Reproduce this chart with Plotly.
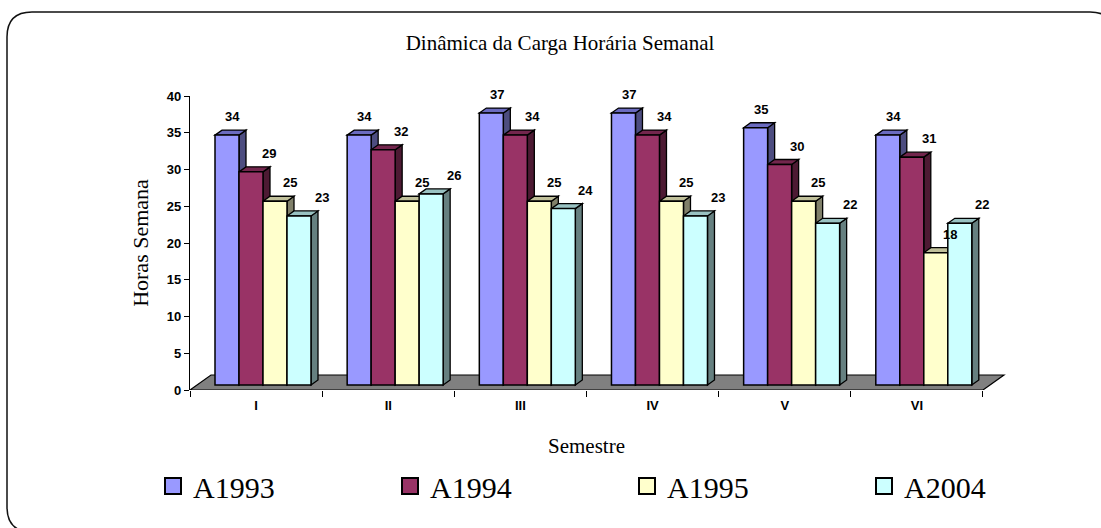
import plotly.graph_objects as go

# ---------------- data ----------------
categories = ["I", "II", "III", "IV", "V", "VI"]
series_names = ["A1993", "A1994", "A1995", "A2004"]
a1993 = [34, 34, 37, 37, 35, 34]
a1994 = [29, 32, 34, 34, 30, 31]
a1995 = [25, 25, 25, 25, 25, 18]
a2004 = [23, 26, 24, 23, 22, 22]
y_tick_vals = [0, 5, 10, 15, 20, 25, 30, 35, 40]

series_values = [a1993, a1994, a1995, a2004]

# ---------------- style ----------------
front_colors = ["#9999FF", "#993366", "#FFFFCC", "#CCFFFF"]
top_colors = ["#6B6BC0", "#73264D", "#C0C09A", "#99C2C2"]
side_colors = ["#4D4D80", "#4D1A33", "#80806A", "#668080"]
label_xshift = [2, 14, 11, 19]

SERIF = "Liberation Serif, Times New Roman, serif"
SANS = "Liberation Sans, Arial, sans-serif"

W, H = 1101, 528
ML, MR, MT, MB = 190, 85, 96, 138
X_RANGE = [-0.5, 5.75]
Y_RANGE = [0, 40]
PXU = (W - ML - MR) / (X_RANGE[1] - X_RANGE[0])   # px per category unit
PYU = (H - MT - MB) / (Y_RANGE[1] - Y_RANGE[0])   # px per value unit

bar_w = 24 / PXU
off0 = 25 / PXU - 0.5
dx = 7 / PXU
dy = 5 / PYU
base = dy

fig = go.Figure()

shapes = []
# floor
shapes.append(dict(
    type="path", xref="x", yref="y", layer="below",
    path=(f"M{-0.5},{0} L{5.5},{0} L{5.5 + 3 * dx},{3 * dy} "
          f"L{-0.5 + 3 * dx},{3 * dy} Z"),
    fillcolor="#808080", line=dict(color="black", width=1.2)))

annotations = []
for k, (name, vals) in enumerate(zip(series_names, series_values)):
    off = off0 + k * bar_w
    fig.add_trace(go.Bar(
        x=categories, y=vals, base=base, width=bar_w, offset=off,
        name=name, showlegend=False,
        marker=dict(color=front_colors[k], line=dict(color="black", width=1.5)),
        hoverinfo="skip"))
    # legend proxy
    fig.add_trace(go.Scatter(
        x=[None], y=[None], mode="markers", name=name,
        marker=dict(symbol="square", size=16, color=front_colors[k],
                    line=dict(color="black", width=2))))
    for i, v in enumerate(vals):
        xl = i + off
        xr = xl + bar_w
        b = base
        t = base + v
        shapes.append(dict(
            type="path", xref="x", yref="y", layer="below",
            path=f"M{xr},{b} L{xr + dx},{b + dy} L{xr + dx},{t + dy} L{xr},{t} Z",
            fillcolor=side_colors[k], line=dict(color="black", width=1.3)))
        shapes.append(dict(
            type="path", xref="x", yref="y", layer="below",
            path=f"M{xl},{t} L{xl + dx},{t + dy} L{xr + dx},{t + dy} L{xr},{t} Z",
            fillcolor=top_colors[k], line=dict(color="black", width=1.3)))
        annotations.append(dict(
            x=xl + bar_w / 2 + dx / 2, y=t + dy, xref="x", yref="y",
            text=str(v), showarrow=False, yanchor="bottom", yshift=4,
            xshift=label_xshift[k],
            font=dict(family=SANS, size=13, color="black", weight="bold")))

# rounded outer border (pixel -> paper)
def px(xp):
    return (xp - ML) / (W - ML - MR)

def py(yp):
    return (H - MB - yp) / (H - MT - MB)

# x-axis title as centred text under the category axis
annotations.append(dict(
    x=(len(categories) - 1) / 2, xref="x", y=py(446), yref="paper",
    text="Semestre", showarrow=False, xanchor="center", yanchor="middle",
    font=dict(family=SERIF, size=21, color="black")))

L_, T_, R_, B_, r = 7, 12, 1115, 532, 25
border = (f"M{px(L_ + r)},{py(T_)} L{px(R_ - r)},{py(T_)} "
          f"Q{px(R_)},{py(T_)} {px(R_)},{py(T_ + r)} "
          f"L{px(R_)},{py(B_ - r)} Q{px(R_)},{py(B_)} {px(R_ - r)},{py(B_)} "
          f"L{px(L_ + r)},{py(B_)} Q{px(L_)},{py(B_)} {px(L_)},{py(B_ - r)} "
          f"L{px(L_)},{py(T_ + r)} Q{px(L_)},{py(T_)} {px(L_ + r)},{py(T_)} Z")
shapes.append(dict(type="path", xref="paper", yref="paper", path=border,
                   line=dict(color="#111111", width=1.5), fillcolor="rgba(0,0,0,0)"))

fig.update_layout(
    width=W, height=H, autosize=False,
    margin=dict(l=ML, r=MR, t=MT, b=MB),
    paper_bgcolor="white", plot_bgcolor="white",
    barmode="overlay",
    title=dict(text="Dinâmica da Carga Horária Semanal",
               font=dict(family=SERIF, size=21, color="black"),
               x=560 / W, xref="container", xanchor="center",
               y=1 - 43 / H, yref="container", yanchor="middle"),
    xaxis=dict(type="category", range=X_RANGE, showline=False,
               showgrid=False, zeroline=False, tickson="boundaries",
               ticks="outside", ticklen=6, tickcolor="black", tickwidth=1,
               ticklabelstandoff=6,
               tickfont=dict(family=SANS, size=13, color="black", weight="bold")),
    yaxis=dict(range=Y_RANGE, tickvals=y_tick_vals, showline=True,
               linecolor="black", linewidth=1.2, showgrid=False, zeroline=False,
               ticks="outside", ticklen=5, tickcolor="black",
               tickfont=dict(family=SANS, size=13, color="black", weight="bold"),
               title=dict(text="Horas Semana", standoff=12,
                          font=dict(family=SERIF, size=22, color="black"))),
    legend=dict(orientation="h", x=(164 - ML) / (W - ML - MR), xanchor="left",
                y=(H - MB - 486) / (H - MT - MB), yanchor="middle",
                entrywidth=192, entrywidthmode="pixels",
                font=dict(family=SERIF, size=30, color="black"),
                bgcolor="rgba(0,0,0,0)"),
    shapes=shapes,
    annotations=annotations,
)

fig.write_html("out.html",
               config={"displayModeBar": False},
               post_script="document.body.style.margin='0';document.body.style.padding='0';")
